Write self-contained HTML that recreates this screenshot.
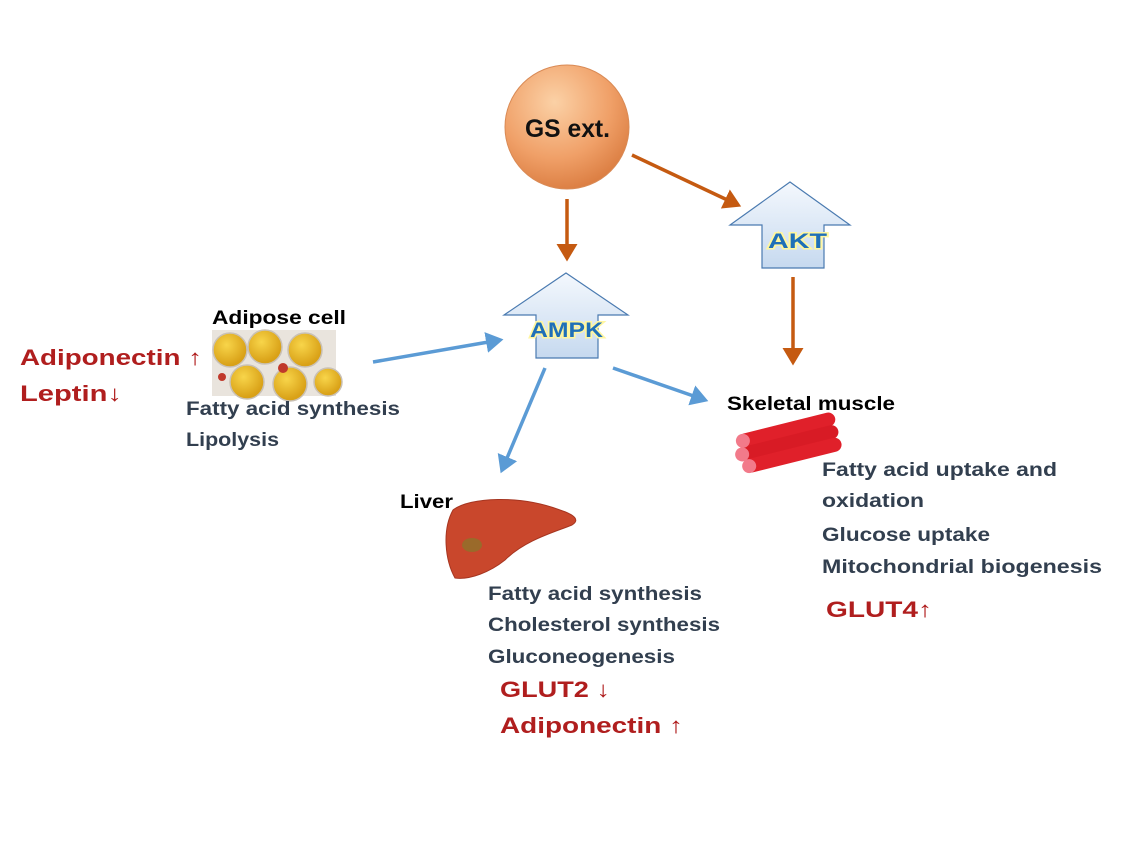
<!DOCTYPE html>
<html><head><meta charset="utf-8"><style>
body{margin:0;background:#fff;}
svg text{font-family:"Liberation Sans",sans-serif;font-weight:bold;}
</style></head><body>
<svg width="1139" height="840" viewBox="0 0 1139 840" xmlns="http://www.w3.org/2000/svg">
<defs>
<radialGradient id="gs" cx="0.4" cy="0.3" r="0.75">
<stop offset="0" stop-color="#fbd1a6"/><stop offset="0.6" stop-color="#f0a068"/><stop offset="1" stop-color="#d97a3e"/>
</radialGradient>
<linearGradient id="ar" x1="0" y1="0" x2="0" y2="1">
<stop offset="0" stop-color="#f4f8fd"/><stop offset="1" stop-color="#c6d9ef"/>
</linearGradient>
<marker id="mo" markerWidth="6" markerHeight="6" refX="4" refY="3" orient="auto" markerUnits="strokeWidth"><path d="M0,0 L5,3 L0,6 z" fill="#c55a11"/></marker>
<marker id="mb" markerWidth="6" markerHeight="6" refX="4" refY="3" orient="auto" markerUnits="strokeWidth"><path d="M0,0 L5,3 L0,6 z" fill="#5b9bd5"/></marker>
<radialGradient id="fat" cx="0.4" cy="0.35" r="0.6"><stop offset="0" stop-color="#f8d54a"/><stop offset="1" stop-color="#d9a117"/></radialGradient>
</defs>
<circle cx="567" cy="127" r="62" fill="url(#gs)" stroke="#d98a55" stroke-width="1"/>
<text x="525" y="137" font-size="25" textLength="85" lengthAdjust="spacingAndGlyphs" fill="#111">GS ext.</text>
<path d="M566,273 L628,315 L598,315 L598,358 L536,358 L536,315 L504,315 z" fill="url(#ar)" stroke="#4a7ab0" stroke-width="1.2"/>
<text x="530" y="337" font-size="21" textLength="73" lengthAdjust="spacingAndGlyphs" fill="#1f6fb8" stroke="#fff6a0" stroke-width="3" paint-order="stroke">AMPK</text>
<path d="M790,182 L850,225 L824,225 L824,268 L762,268 L762,225 L730,225 z" fill="url(#ar)" stroke="#4a7ab0" stroke-width="1.2"/>
<text x="768" y="248" font-size="21" textLength="59" lengthAdjust="spacingAndGlyphs" fill="#1f6fb8" stroke="#fff6a0" stroke-width="3" paint-order="stroke">AKT</text>
<g stroke="#c55a11" stroke-width="3.5" fill="none">
<line x1="567" y1="199" x2="567" y2="258" marker-end="url(#mo)"/>
<line x1="632" y1="155" x2="738" y2="205" marker-end="url(#mo)"/>
<line x1="793" y1="277" x2="793" y2="362" marker-end="url(#mo)"/>
</g>
<g stroke="#5b9bd5" stroke-width="3.5" fill="none">
<line x1="373" y1="362" x2="500" y2="340" marker-end="url(#mb)"/>
<line x1="545" y1="368" x2="502" y2="470" marker-end="url(#mb)"/>
<line x1="613" y1="368" x2="705" y2="400" marker-end="url(#mb)"/>
</g>
<rect x="212" y="330" width="124" height="66" fill="#e9e4dd"/>
<g fill="url(#fat)" stroke="#c9c1b6" stroke-width="1.5">
<circle cx="230" cy="350" r="17"/><circle cx="265" cy="347" r="17"/><circle cx="305" cy="350" r="17"/>
<circle cx="247" cy="382" r="17"/><circle cx="290" cy="384" r="17"/><circle cx="328" cy="382" r="14"/>
</g>
<circle cx="283" cy="368" r="5" fill="#c0392b"/><circle cx="222" cy="377" r="4" fill="#c0392b"/>
<text x="212" y="324" font-size="19" textLength="134" lengthAdjust="spacingAndGlyphs" fill="#000">Adipose cell</text>
<text x="20" y="365" font-size="22" textLength="182" lengthAdjust="spacingAndGlyphs" fill="#b01e1e">Adiponectin ↑</text>
<text x="20" y="401" font-size="22" textLength="102" lengthAdjust="spacingAndGlyphs" fill="#b01e1e">Leptin↓</text>
<g font-size="19" fill="#323f4f">
<text x="186" y="415" textLength="214" lengthAdjust="spacingAndGlyphs">Fatty acid synthesis</text>
<text x="186" y="446" textLength="93" lengthAdjust="spacingAndGlyphs">Lipolysis</text>
</g>
<path d="M453,510 C470,497 520,495 560,510 C575,515 580,520 572,525 C555,532 525,540 505,560 C490,572 470,580 455,578 C445,560 442,530 453,510 z" fill="#c9472c" stroke="#a63520"/>
<ellipse cx="472" cy="545" rx="10" ry="7" fill="#9a6a2a"/>
<text x="400" y="508" font-size="19" textLength="53" lengthAdjust="spacingAndGlyphs" fill="#000">Liver</text>
<g font-size="19" fill="#323f4f">
<text x="488" y="600" textLength="214" lengthAdjust="spacingAndGlyphs">Fatty acid synthesis</text>
<text x="488" y="631" textLength="232" lengthAdjust="spacingAndGlyphs">Cholesterol synthesis</text>
<text x="488" y="663" textLength="187" lengthAdjust="spacingAndGlyphs">Gluconeogenesis</text>
</g>
<text x="500" y="697" font-size="22" textLength="110" lengthAdjust="spacingAndGlyphs" fill="#b01e1e">GLUT2 ↓</text>
<text x="500" y="733" font-size="22" textLength="183" lengthAdjust="spacingAndGlyphs" fill="#b01e1e">Adiponectin ↑</text>
<g transform="rotate(-14 780 445)">
<rect x="740" y="425" width="100" height="14" rx="7" fill="#e0202a"/>
<rect x="736" y="438" width="104" height="14" rx="7" fill="#d81b25"/>
<rect x="740" y="451" width="100" height="14" rx="7" fill="#e0202a"/>
<circle cx="745" cy="432" r="7" fill="#f27a8a"/><circle cx="741" cy="445" r="7" fill="#f27a8a"/><circle cx="745" cy="458" r="7" fill="#f27a8a"/>
</g>
<text x="727" y="410" font-size="19" textLength="168" lengthAdjust="spacingAndGlyphs" fill="#000">Skeletal muscle</text>
<g font-size="19" fill="#323f4f">
<text x="822" y="476" textLength="235" lengthAdjust="spacingAndGlyphs">Fatty acid uptake and</text>
<text x="822" y="507" textLength="102" lengthAdjust="spacingAndGlyphs">oxidation</text>
<text x="822" y="541" textLength="168" lengthAdjust="spacingAndGlyphs">Glucose uptake</text>
<text x="822" y="573" textLength="280" lengthAdjust="spacingAndGlyphs">Mitochondrial biogenesis</text>
</g>
<text x="826" y="617" font-size="22" textLength="106" lengthAdjust="spacingAndGlyphs" fill="#b01e1e">GLUT4↑</text>
</svg>
</body></html>
